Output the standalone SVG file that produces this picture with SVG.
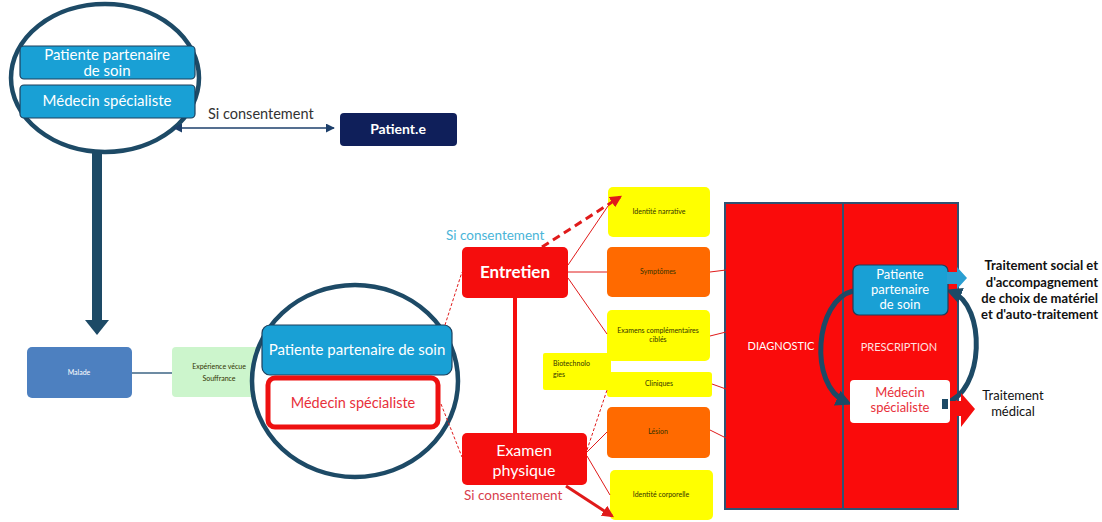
<svg xmlns="http://www.w3.org/2000/svg" width="1102" height="522" viewBox="0 0 1102 522">
  <style>
    text { font-family: "Lato", "Liberation Sans", sans-serif; }
    .ring { fill: #ffffff; stroke: #1d4a66; stroke-width: 4.5; }
    .blue { fill: #19a0d5; stroke: #1d3f5c; stroke-width: 1.2; }
    .wt { fill: #ffffff; text-anchor: middle; }
    .tiny { font-size: 7px; fill: #333300; text-anchor: middle; }
    .yellow { fill: #ffff00; }
    .orange { fill: #ff6a00; }
    .redbox { fill: #f50d0d; }
    .thin { stroke: #e01a1a; stroke-width: 1; fill: none; }
    .dash { stroke: #e01a1a; stroke-width: 1; fill: none; stroke-dasharray: 3 2; }
    .loop { stroke: #1d4a66; stroke-width: 5; fill: none; }
  </style>
  <defs>
    <marker id="navyHead" viewBox="0 0 10 10" refX="9" refY="5" markerWidth="6" markerHeight="6" orient="auto-start-reverse">
      <path d="M0,0 L10,5 L0,10 z" fill="#1d3f6b"/>
    </marker>
    <marker id="redHead" viewBox="0 0 10 10" refX="8" refY="5" markerWidth="4" markerHeight="4" orient="auto">
      <path d="M0,0 L10,5 L0,10 z" fill="#e01a1a"/>
    </marker>
    <marker id="loopHead" viewBox="0 0 10 10" refX="6" refY="5" markerWidth="3.2" markerHeight="3.2" orient="auto">
      <path d="M0,0 L10,5 L0,10 z" fill="#1d4a66"/>
    </marker>
  </defs>

  <!-- upper lens -->
  <g id="lens-top">
    <ellipse class="ring" cx="105" cy="78" rx="94" ry="74"/>
    <rect class="blue" x="20" y="46" width="175" height="33" rx="4"/>
    <text class="wt" x="107" y="60" font-size="15">Patiente partenaire</text>
    <text class="wt" x="107" y="76" font-size="15">de soin</text>
    <rect class="blue" x="20" y="85" width="175" height="33" rx="4"/>
    <text class="wt" x="107" y="106" font-size="15">Médecin spécialiste</text>
  </g>

  <text x="208" y="119" font-size="14.5" fill="#333333">Si consentement</text>

  <g id="patient">
    <rect x="340" y="113" width="117" height="33" rx="4" fill="#0f1f5a"/>
    <text class="wt" x="398" y="134" font-size="14" font-weight="bold">Patient.e</text>
  </g>

  <g id="malade">
    <rect x="27" y="347" width="105" height="51" rx="5" fill="#4d80c0"/>
    <text class="wt" x="79" y="375" font-size="7">Malade</text>
  </g>

  <g id="experience">
    <rect x="172" y="347" width="90" height="50" rx="4" fill="#ccf5cc"/>
    <text class="tiny" x="219" y="369">Expérience vécue</text>
    <text class="tiny" x="219" y="381">Souffrance</text>
  </g>

  <!-- middle lens -->
  <g id="lens-middle">
    <ellipse class="ring" cx="355" cy="381" rx="103" ry="96"/>
    <rect class="blue" x="262" y="325" width="190" height="50" rx="8"/>
    <text class="wt" x="357" y="355" font-size="15">Patiente partenaire de soin</text>
    <rect x="268" y="378" width="170" height="49" rx="7" fill="#ffffff" stroke="#ee1111" stroke-width="5"/>
    <text x="353" y="408" font-size="14.5" fill="#e8303a" text-anchor="middle">Médecin spécialiste</text>
  </g>

  <text x="446" y="240" font-size="13.5" fill="#4ab5d8">Si consentement</text>

  <g id="entretien">
    <rect class="redbox" x="462" y="247" width="106" height="51" rx="5"/>
    <text class="wt" x="515" y="278" font-size="17" font-weight="bold">Entretien</text>
  </g>

  <g id="examen">
    <rect class="redbox" x="462" y="433" width="125" height="52" rx="5"/>
    <text class="wt" x="524" y="456" font-size="16">Examen</text>
    <text class="wt" x="524" y="476" font-size="16">physique</text>
  </g>

  <text x="464" y="500" font-size="13.5" fill="#d8404c">Si consentement</text>

  <g id="identite-narrative">
    <rect class="yellow" x="608" y="187" width="102" height="50" rx="5"/>
    <text class="tiny" x="659" y="214">Identité narrative</text>
  </g>
  <g id="symptomes">
    <rect class="orange" x="607" y="247" width="103" height="50" rx="5"/>
    <text class="tiny" x="658" y="274">Symptômes</text>
  </g>
  <g id="biotechnologies">
    <rect class="yellow" x="543" y="353" width="68" height="37" rx="2"/>
    <text x="553" y="366" font-size="7" fill="#333300">Biotechnolo</text>
    <text x="553" y="377" font-size="7" fill="#333300">gies</text>
  </g>
  <g id="examens-complementaires">
    <rect class="yellow" x="607" y="310" width="103" height="51" rx="5"/>
    <text class="tiny" x="658" y="333">Examens complémentaires</text>
    <text class="tiny" x="658" y="342">ciblés</text>
  </g>
  <g id="cliniques">
    <rect class="yellow" x="607" y="372" width="105" height="25" rx="3"/>
    <text class="tiny" x="659" y="386">Cliniques</text>
  </g>
  <g id="lesion">
    <rect class="orange" x="607" y="407" width="103" height="51" rx="5"/>
    <text class="tiny" x="658" y="434">Lésion</text>
  </g>
  <g id="identite-corporelle">
    <rect class="yellow" x="610" y="470" width="103" height="50" rx="5"/>
    <text class="tiny" x="661" y="497">Identité corporelle</text>
  </g>

  <!-- diagnostic / prescription panel -->
  <g id="panel">
    <rect x="725" y="203" width="233" height="306" fill="#fa0b0b" stroke="#2f5272" stroke-width="2"/>
    <line x1="843" y1="203" x2="843" y2="509" stroke="#2f5272" stroke-width="2"/>
    <text class="wt" x="781" y="350" font-size="11">DIAGNOSTIC</text>
    <text x="899" y="351" font-size="11" fill="#ffe0e0" text-anchor="middle">PRESCRIPTION</text>
  </g>

  <g id="cycle">
    <path class="loop" d="M853,291 C815,300 808,385 846,402" marker-end="url(#loopHead)"/>
    <path class="loop" d="M945,403 C985,392 986,305 952,292" marker-end="url(#loopHead)"/>
  </g>

  <g id="panel-patiente">
    <rect class="blue" x="853" y="265" width="95" height="50" rx="6"/>
    <text class="wt" x="900" y="279" font-size="13">Patiente</text>
    <text class="wt" x="900" y="294" font-size="13">partenaire</text>
    <text class="wt" x="900" y="309" font-size="13">de soin</text>
    <polygon points="947,272 957,272 957,267 967,278 957,289 957,284 947,284" fill="#2a9fd2"/>
  </g>

  <g id="panel-medecin">
    <rect x="850" y="380" width="100" height="43" rx="4" fill="#ffffff"/>
    <text x="900" y="397" font-size="13" fill="#e8303a" text-anchor="middle">Médecin</text>
    <text x="900" y="412" font-size="13" fill="#e8303a" text-anchor="middle">spécialiste</text>
    <rect x="942" y="399" width="6" height="10" fill="#1d4a66"/>
    <polygon points="950,401 961,401 961,393 975,409 961,427 961,416 950,416" fill="#f50d0d"/>
  </g>

  <g id="traitement-social">
    <text x="1098" y="270" font-size="13" font-weight="bold" fill="#111111" text-anchor="end">Traitement social et</text>
    <text x="1098" y="287" font-size="13" font-weight="bold" fill="#111111" text-anchor="end">d'accompagnement</text>
    <text x="1098" y="303" font-size="13" font-weight="bold" fill="#111111" text-anchor="end">de choix de matériel</text>
    <text x="1098" y="319" font-size="13" font-weight="bold" fill="#111111" text-anchor="end">et d'auto-traitement</text>
  </g>
  <g id="traitement-medical">
    <text x="1013" y="400" font-size="13" fill="#111111" text-anchor="middle">Traitement</text>
    <text x="1013" y="416" font-size="13" fill="#111111" text-anchor="middle">médical</text>
  </g>

  <!-- connectors -->
  <g id="connectors">
    <!-- stem from the upper lens down to Malade -->
    <rect x="92" y="152" width="10" height="168" fill="#1d4a66"/>
    <polygon points="85,320 109,320 97,335" fill="#1d4a66"/>
    <!-- consent link to the patient -->
    <line x1="174" y1="128" x2="334" y2="128" stroke="#1d3f6b" stroke-width="1.5" marker-start="url(#navyHead)" marker-end="url(#navyHead)"/>
    <!-- Malade to lived experience -->
    <line x1="132" y1="373" x2="172" y2="373" stroke="#6d8ba3" stroke-width="2"/>
    <!-- lens to interview / exam -->
    <line class="dash" x1="445" y1="325" x2="462" y2="272"/>
    <line class="dash" x1="441" y1="404" x2="462" y2="457"/>
    <!-- interview to exam -->
    <line x1="515" y1="298" x2="515" y2="433" stroke="#f50d0d" stroke-width="4"/>
    <!-- interview outputs -->
    <line class="thin" x1="568" y1="265" x2="608" y2="206"/>
    <line class="thin" x1="568" y1="272" x2="607" y2="272"/>
    <line class="thin" x1="568" y1="278" x2="607" y2="334"/>
    <!-- exam outputs -->
    <line class="dash" x1="587" y1="450" x2="607" y2="390"/>
    <line class="thin" x1="587" y1="452" x2="607" y2="432"/>
    <line class="thin" x1="587" y1="456" x2="610" y2="495"/>
    <!-- findings into the diagnostic panel -->
    <line class="thin" x1="710" y1="272" x2="726" y2="270"/>
    <line class="thin" x1="710" y1="336" x2="726" y2="332"/>
    <line class="thin" x1="712" y1="384" x2="726" y2="389"/>
    <line class="thin" x1="710" y1="430" x2="726" y2="438"/>
    <!-- consent arrows -->
    <line x1="542" y1="247" x2="620" y2="197" stroke="#e01a1a" stroke-width="3" stroke-dasharray="8 5" marker-end="url(#redHead)"/>
    <line x1="566" y1="486" x2="612" y2="516" stroke="#e01a1a" stroke-width="3" marker-end="url(#redHead)"/>
  </g>
</svg>
